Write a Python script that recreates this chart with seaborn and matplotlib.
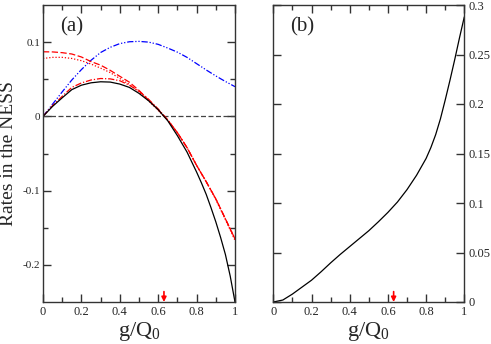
import numpy as np
import pandas as pd
import matplotlib
matplotlib.use("Agg")
import matplotlib.pyplot as plt
import seaborn as sns

# ---------------- data ----------------
g = [0.0, 0.05, 0.1, 0.15, 0.2, 0.25, 0.3, 0.35, 0.4, 0.45, 0.5,
     0.55, 0.6, 0.65, 0.7, 0.75, 0.8, 0.825, 0.85, 0.875, 0.9, 0.925, 0.95, 0.975, 1.0]

black_solid = [0.0, 0.0135, 0.025, 0.036, 0.042, 0.0452, 0.0466, 0.0462, 0.0435, 0.039, 0.031,
               0.021, 0.009, -0.006, -0.026, -0.048, -0.075, -0.0895, -0.105, -0.123, -0.142,
               -0.163, -0.186, -0.215, -0.25]
red_dashed = [0.087, 0.0868, 0.0858, 0.084, 0.080, 0.0738, 0.069, 0.062, 0.054, 0.046, 0.035,
              0.022, 0.009, -0.005, -0.022, -0.042, -0.066, -0.077, -0.088, -0.0995, -0.111,
              -0.1245, -0.138, -0.1515, -0.165]
red_dotted = [0.078, 0.0795, 0.0795, 0.078, 0.075, 0.0705, 0.065, 0.059, 0.051, 0.043, 0.033,
              0.021, 0.008, -0.005, -0.022, -0.042, -0.066, -0.077, -0.088, -0.100, -0.112,
              -0.1255, -0.139, -0.153, -0.167]
red_dashdot = [0.0, 0.0145, 0.027, 0.039, 0.045, 0.049, 0.051, 0.0505, 0.048, 0.042, 0.034,
               0.023, 0.010, -0.005, -0.022, -0.042, -0.066, -0.077, -0.088, -0.0995, -0.111,
               -0.1245, -0.138, -0.1515, -0.165]
blue_dashdotdot = [0.0, 0.0165, 0.033, 0.049, 0.063, 0.0755, 0.086, 0.093, 0.098, 0.1005, 0.101,
                   0.100, 0.097, 0.092, 0.0865, 0.0795, 0.071, 0.0668, 0.0625, 0.0585, 0.0545,
                   0.0507, 0.047, 0.0435, 0.040]
black_dashed = [0.0] * len(g)

g_b = [0.0, 0.05, 0.1, 0.15, 0.2, 0.25, 0.3, 0.35, 0.4, 0.45, 0.5,
       0.55, 0.6, 0.65, 0.7, 0.75, 0.8, 0.825, 0.85, 0.875, 0.9, 0.925, 0.95, 0.975, 1.0]
panel_b = [0.0, 0.002, 0.008, 0.015, 0.022, 0.0305, 0.0395, 0.048, 0.056, 0.064, 0.072,
           0.081, 0.0905, 0.101, 0.1135, 0.128, 0.145, 0.156, 0.169, 0.185, 0.204,
           0.224, 0.245, 0.267, 0.288]

g_arrow = 0.63
xticks = [0, 0.2, 0.4, 0.6, 0.8, 1]
xtick_labels = ["0", "0.2", "0.4", "0.6", "0.8", "1"]
yticks_a = [-0.2, -0.1, 0, 0.1]
ytick_labels_a = ["-0.2", "-0.1", "0", "0.1"]
yticks_b = [0, 0.05, 0.1, 0.15, 0.2, 0.25, 0.3]
ytick_labels_b = ["0", "0.05", "0.1", "0.15", "0.2", "0.25", "0.3"]

# ---------------- style ----------------
sns.set_style("ticks")
plt.rcParams["font.family"] = ["Liberation Serif", "DejaVu Serif"]
plt.rcParams["mathtext.fontset"] = "custom"
plt.rcParams["mathtext.rm"] = "Liberation Serif"
plt.rcParams["mathtext.it"] = "Liberation Serif"
plt.rcParams["axes.unicode_minus"] = False

fig = plt.figure(figsize=(4.91, 3.44), dpi=100)
ax_a = fig.add_axes([43 / 491, 1 - 302 / 344, 192 / 491, 297 / 344])
ax_b = fig.add_axes([273.3 / 491, 1 - 302 / 344, 191 / 491, 297 / 344])

df = pd.DataFrame({"g": g, "black_solid": black_solid, "red_dashed": red_dashed,
                   "red_dotted": red_dotted, "red_dashdot": red_dashdot,
                   "blue": blue_dashdotdot, "black_dashed": black_dashed})
df_b = pd.DataFrame({"g": g_b, "b": panel_b})

lw = 0.9
sns.lineplot(data=df, x="g", y="black_dashed", ax=ax_a, color="#444444", lw=lw, linestyle=(0, (4, 2)))
sns.lineplot(data=df, x="g", y="blue", ax=ax_a, color="#0000ff", lw=lw, linestyle=(0, (5, 1.5, 1, 1.5, 1, 1.5)))
sns.lineplot(data=df, x="g", y="red_dotted", ax=ax_a, color="#ff0000", lw=lw, linestyle=(0, (1, 1.5)))
sns.lineplot(data=df, x="g", y="red_dashed", ax=ax_a, color="#ff0000", lw=lw, linestyle=(0, (5, 2)))
sns.lineplot(data=df, x="g", y="red_dashdot", ax=ax_a, color="#ff0000", lw=lw, linestyle=(0, (5, 1.5, 1, 1.5)))
sns.lineplot(data=df, x="g", y="black_solid", ax=ax_a, color="black", lw=lw)

sns.lineplot(data=df_b, x="g", y="b", ax=ax_b, color="black", lw=lw)

for ax in (ax_a, ax_b):
    ax.set_xlim(0, 1)
    ax.set_xticks(xticks)
    ax.set_xticklabels(xtick_labels)
    ax.set_xticks([0.1, 0.3, 0.5, 0.7, 0.9], minor=True)
    ax.tick_params(which="both", direction="in", top=True, bottom=True, left=True, right=True,
                   color="#333333", labelsize=9, pad=3)
    ax.tick_params(which="major", length=6, width=1)
    ax.tick_params(which="minor", length=3.5, width=1)
    for s in ax.spines.values():
        s.set_linewidth(1.0)
        s.set_color("#333333")
    ax.set_xlabel(r"g/Q$_0$", fontsize=16)
    ax.xaxis.set_label_coords(0.5, -0.06)
    ax.set_ylabel("")
    ax.annotate("", xy=(g_arrow, 0.0), xycoords=("data", "axes fraction"),
                xytext=(g_arrow, 0.035), textcoords=("data", "axes fraction"),
                arrowprops=dict(arrowstyle="-|>", color="red", lw=1.2, mutation_scale=7,
                                shrinkA=0, shrinkB=0))

ax_a.set_ylim(-0.25, 0.15)
ax_a.set_yticks(yticks_a)
ax_a.set_yticklabels(ytick_labels_a)
ax_a.set_yticks([-0.15, -0.05, 0.05], minor=True)
ax_a.tick_params(axis="y", labelsize=8, pad=2)
ax_a.set_ylabel("Rates in the NESS", fontsize=14)
ax_a.yaxis.set_label_coords(-0.133, 0.5)
ax_a.text(0.088, 0.926, "(a)", transform=ax_a.transAxes, fontsize=15, va="center", ha="left")

ax_b.set_ylim(0, 0.3)
ax_b.set_yticks(yticks_b)
ax_b.set_yticklabels(ytick_labels_b)
ax_b.tick_params(axis="y", labelleft=False, labelright=True)
ax_b.text(0.089, 0.926, "(b)", transform=ax_b.transAxes, fontsize=15, va="center", ha="left")

fig.savefig("out.png", dpi=100)
